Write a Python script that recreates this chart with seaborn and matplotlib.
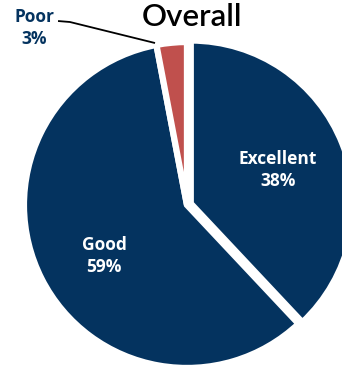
import matplotlib
matplotlib.use("Agg")
import matplotlib.pyplot as plt
import seaborn as sns

# Survey ratings, drawn clockwise from 12 o'clock
categories = ["Excellent", "Good", "Poor"]
shares = [38, 59, 3]
pct_labels = ["38%", "59%", "3%"]

sns.set_theme(style="white")
plt.rcParams["font.family"] = ["Open Sans", "DejaVu Sans"]

navy = "#04335F"
red = "#C0504D"
colors = [navy, navy, red]

fig = plt.figure(figsize=(3.42, 3.67), dpi=100)
ax = fig.add_axes([0, 0, 1, 1])

ax.pie(shares, colors=colors, startangle=90, counterclock=False,
       explode=[0.025, 0, 0], radius=1.0,
       wedgeprops=dict(edgecolor="white", linewidth=4.5))

ax.set_xlim(-1.147, 0.951)
ax.set_ylim(-0.994, 1.258)
ax.set_aspect("auto")
ax.axis("off")

# In-slice labels
ax.text(0.558, 0.215, f"{categories[0]}\n{pct_labels[0]}", color="white",
        fontsize=12.5, fontweight="bold", ha="center", va="center", linespacing=1.3)
ax.text(-0.509, -0.313, f"{categories[1]}\n{pct_labels[1]}", color="white",
        fontsize=12.5, fontweight="bold", ha="center", va="center", linespacing=1.3)

# Outside label with leader line for the small slice
ax.text(-0.935, 1.085, f"{categories[2]}\n{pct_labels[2]}", color=navy,
        fontsize=12.5, fontweight="bold", ha="center", va="center", linespacing=1.3)
ax.plot([-0.791, -0.718, -0.196], [1.129, 1.123, 0.994], color="black", lw=1.3,
        solid_capstyle="butt")

ax.text(0.03, 1.1, "Overall", color="black", fontsize=22.5, fontweight="semibold",
        ha="center", va="baseline", family=["Lato", "DejaVu Sans"])

fig.savefig("out.png", dpi=100)
